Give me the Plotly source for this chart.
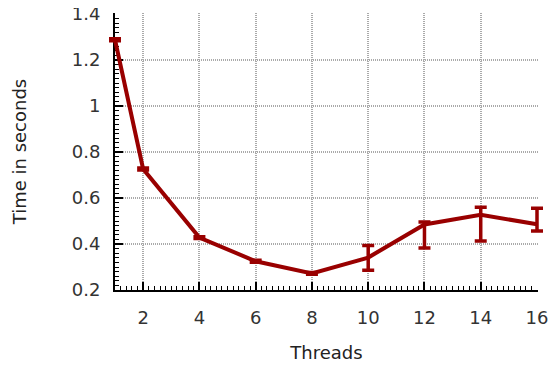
import plotly.graph_objects as go

threads = [1, 2, 4, 6, 8, 10, 12, 14, 16]
time_mean = [1.288, 0.726, 0.428, 0.325, 0.272, 0.341, 0.485, 0.527, 0.486]
err_upper = [1.292, 0.730, 0.432, 0.329, 0.276, 0.394, 0.496, 0.560, 0.555]
err_lower = [1.284, 0.722, 0.424, 0.321, 0.268, 0.286, 0.383, 0.413, 0.457]
x_ticks = [2, 4, 6, 8, 10, 12, 14, 16]
y_ticks = [0.2, 0.4, 0.6, 0.8, 1.0, 1.2, 1.4]
y_tick_text = ["0.2", "0.4", "0.6", "0.8", "1", "1.2", "1.4"]

plus = [u - m for u, m in zip(err_upper, time_mean)]
minus = [m - l for m, l in zip(time_mean, err_lower)]

X_MIN, X_MAX = 1, 16
Y_MIN, Y_MAX = 0.2, 1.4

# geometry (px); the page body adds an 8px offset
W, H = 549, 359
ML, MR, MT, MB = 99, 12, 5, 69
PAD_L, PAD_R, PAD_T, PAD_B = 8, 8, 1, 8
PW = W - ML - MR
PH = H - MT - MB
x_unit = (PW - PAD_L - PAD_R) / (X_MAX - X_MIN)
y_unit = (PH - PAD_T - PAD_B) / (Y_MAX - Y_MIN)

color = "#990000"
fig = go.Figure()
fig.add_trace(go.Scatter(x=threads, y=time_mean, mode="markers",
                         marker=dict(opacity=0), hoverinfo="skip",
                         xaxis="x", yaxis="y"))
fig.add_trace(go.Scatter(
    x=threads, y=time_mean, mode="lines",
    line=dict(color=color, width=4),
    error_y=dict(type="data", symmetric=False, array=plus, arrayminus=minus,
                 color=color, thickness=3.5, width=6),
    xaxis="x2", yaxis="y2",
))

tickfont = dict(family="DejaVu Sans", size=18, color="#333333")
titlefont = dict(family="DejaVu Sans", size=18, color="#222222")
axis_common = dict(
    showline=True, linecolor="#000000", linewidth=2,
    ticks="inside", ticklen=8, tickwidth=1.5, tickcolor="#000000",
    showgrid=True, gridcolor="#aaaaaa", gridwidth=1.5, griddash="1px,1px",
    zeroline=False, automargin=False, ticklabeloverflow="allow",
    tickfont=tickfont, title_font=titlefont,
)

fig.update_layout(
    xaxis=dict(
        domain=[PAD_L / PW, 1 - (PAD_R - 1) / PW], anchor="y",
        range=[X_MIN, X_MAX + 1 / x_unit], tickvals=x_ticks,
        minor=dict(dtick=0.2, tick0=1, ticks="inside", ticklen=4, tickwidth=1.2,
                   tickcolor="#000000", showgrid=False),
        title=dict(text="Threads", standoff=20),
        ticklabelstandoff=10,
        **axis_common,
    ),
    yaxis=dict(
        domain=[PAD_B / PH, 1], anchor="x",
        range=[Y_MIN, Y_MAX + 1 / y_unit], tickvals=y_ticks, ticktext=y_tick_text,
        minor=dict(dtick=0.02, tick0=0.2, ticks="inside", ticklen=4, tickwidth=1.2,
                   tickcolor="#000000", showgrid=False),
        title=dict(text="Time in seconds", standoff=40),
        ticklabelstandoff=9,
        **axis_common,
    ),
    xaxis2=dict(domain=[0, 1], anchor="y2", visible=False,
                range=[X_MIN - PAD_L / x_unit, X_MAX + PAD_R / x_unit]),
    yaxis2=dict(domain=[0, 1], anchor="x2", visible=False,
                range=[Y_MIN - PAD_B / y_unit, Y_MAX + PAD_T / y_unit]),
    width=W, height=H,
    margin=dict(l=ML, r=MR, t=MT, b=MB),
    paper_bgcolor="white", plot_bgcolor="rgba(0,0,0,0)",
    showlegend=False,
)

fig.write_html("out.html")
